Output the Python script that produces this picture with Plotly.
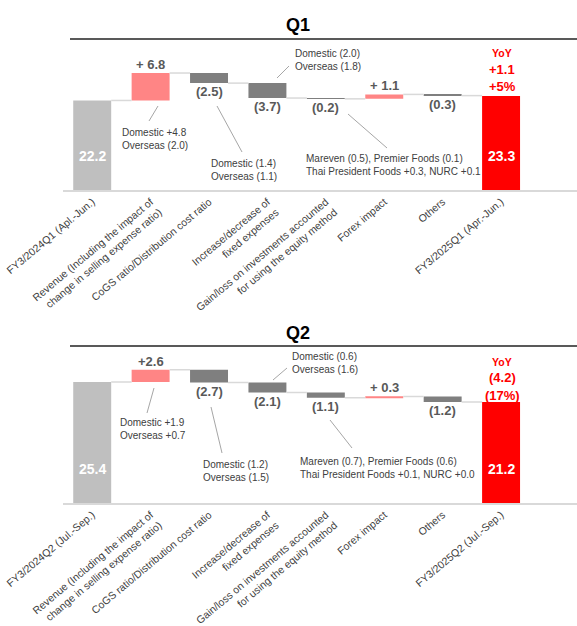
import plotly.graph_objects as go

W, H = 577, 626

# ---------------- data ----------------
q1_categories = [
    "FY3/2024Q1 (Apl.-Jun.)",
    "Revenue (Including the impact of<br>change in selling expense ratio)",
    "CoGS ratio/Distribution cost ratio",
    "Increase/decrease of<br>fixed expenses",
    "Gain/loss on investments accounted<br>for using the equity method",
    "Forex impact",
    "Others",
    "FY3/2025Q1 (Apr.-Jun.)",
]
q2_categories = [
    "FY3/2024Q2 (Jul.-Sep.)",
    "Revenue (Including the impact of<br>change in selling expense ratio)",
    "CoGS ratio/Distribution cost ratio",
    "Increase/decrease of<br>fixed expenses",
    "Gain/loss on investments accounted<br>for using the equity method",
    "Forex impact",
    "Others",
    "FY3/2025Q2 (Jul.-Sep.)",
]
measures = ["absolute", "relative", "relative", "relative", "relative", "relative", "relative", "total"]

q1_values = [22.2, 6.8, -2.5, -3.7, -0.2, 1.1, -0.3, 23.3]
q1_labels = ["22.2", "+ 6.8", "(2.5)", "(3.7)", "(0.2)", "+ 1.1", "(0.3)", "23.3"]
q1_yoy = ["YoY", "+1.1", "+5%"]
q1_notes = [
    "Domestic +4.8<br>Overseas (2.0)",
    "Domestic (1.4)<br>Overseas (1.1)",
    "Domestic (2.0)<br>Overseas (1.8)",
    "Mareven (0.5), Premier Foods (0.1)<br>Thai President Foods +0.3, NURC +0.1",
]

q2_values = [25.4, 2.6, -2.7, -2.1, -1.1, 0.3, -1.2, 21.2]
q2_labels = ["25.4", "+2.6", "(2.7)", "(2.1)", "(1.1)", "+ 0.3", "(1.2)", "21.2"]
q2_yoy = ["YoY", "(4.2)", "(17%)"]
q2_notes = [
    "Domestic +1.9<br>Overseas +0.7",
    "Domestic (1.2)<br>Overseas (1.5)",
    "Domestic (0.6)<br>Overseas (1.6)",
    "Mareven (0.7), Premier Foods (0.6)<br>Thai President Foods +0.1, NURC +0.0",
]

# ---------------- styles ----------------
FONT = "Liberation Sans, Arial, sans-serif"
C_START = "#bfbfbf"
C_UP = "#ff8585"
C_DOWN = "#7f7f7f"
C_END = "#ff0000"
C_CONN = "#d9d9d9"
C_TXT = "#595959"
C_NOTE = "#404040"
BAR_W = 0.65


def px(x, y):
    return x / W, 1 - y / H


fig = go.Figure()
annotations = []
shapes = []


def build(values, labels, xa, ya, xref, yref):
    bases, ys, colors, tops = [], [], [], []
    cum = 0.0
    for i, (m, v) in enumerate(zip(measures, values)):
        if m == "absolute":
            bases.append(0); ys.append(v); colors.append(C_START); cum = v
        elif m == "total":
            bases.append(0); ys.append(v); colors.append(C_END); cum = v
        else:
            bases.append(cum); ys.append(v); colors.append(C_UP if v >= 0 else C_DOWN); cum = cum + v
        tops.append(cum)
    xs = list(range(len(values)))
    fig.add_trace(go.Bar(x=xs, y=ys, base=bases, width=BAR_W, marker=dict(color=colors, line=dict(width=0)),
                         xaxis=xa, yaxis=ya, showlegend=False, hoverinfo="skip"))
    # connectors
    cx, cy = [], []
    for i in range(len(values) - 1):
        cx += [i + BAR_W / 2, i + 1 - BAR_W / 2, None]
        cy += [tops[i], tops[i], None]
    fig.add_trace(go.Scatter(x=cx, y=cy, mode="lines", line=dict(color=C_CONN, width=1.5),
                             xaxis=xa, yaxis=ya, showlegend=False, hoverinfo="skip"))
    # value labels
    for i, (m, v) in enumerate(zip(measures, values)):
        if m in ("absolute", "total"):
            annotations.append(dict(x=i, y=0, xref=xref, yref=yref, yanchor="middle", yshift=34,
                                    text=f"<b>{labels[i]}</b>",
                                    showarrow=False, font=dict(family=FONT, size=14, color="white")))
        elif v >= 0:
            annotations.append(dict(x=i, y=tops[i], xref=xref, yref=yref, yanchor="bottom", yshift=-1,
                                    text=f"<b>{labels[i]}</b>", showarrow=False,
                                    font=dict(family=FONT, size=13, color=C_TXT)))
        else:
            annotations.append(dict(x=i, y=tops[i], xref=xref, yref=yref, yanchor="top", yshift=1,
                                    text=f"<b>{labels[i]}</b>", showarrow=False,
                                    font=dict(family=FONT, size=13, color=C_TXT)))


build(q1_values, q1_labels, "x", "y", "x", "y")
build(q2_values, q2_labels, "x2", "y2", "x2", "y2")


def title(text, tx, ty, line_y):
    x, y = px(tx, ty)
    annotations.append(dict(x=x, y=y, xref="paper", yref="paper", xanchor="center", yanchor="middle",
                            text=f"<b>{text}</b>", showarrow=False,
                            font=dict(family=FONT, size=18, color="black")))
    x0, y0 = px(70, line_y)
    shapes.append(dict(type="line", xref="paper", yref="paper", x0=x0, x1=1, y0=y0, y1=y0,
                       line=dict(color="#595959", width=2)))


title("Q1", 298, 25, 39)
title("Q2", 298, 333, 346)


def note(text, lx, ly, line):
    x, y = px(lx, ly)
    annotations.append(dict(x=x, y=y, xref="paper", yref="paper", xanchor="left", yanchor="top", align="left",
                            text=text, showarrow=False, font=dict(family=FONT, size=10, color=C_NOTE)))
    (x0, y0), (x1, y1) = px(*line[0]), px(*line[1])
    shapes.append(dict(type="line", xref="paper", yref="paper", x0=x0, y0=y0, x1=x1, y1=y1,
                       line=dict(color="#a6a6a6", width=1)))


note(q1_notes[0], 120, 125, [(158, 106), (149, 121)])
note(q1_notes[1], 209, 156, [(217, 106), (242, 152)])
note(q1_notes[2], 293, 46, [(277, 78), (289, 66)])
note(q1_notes[3], 304, 151, [(348, 114), (387, 148)])

note(q2_notes[0], 118, 415, [(154, 388), (147, 413)])
note(q2_notes[1], 201, 457, [(211, 407), (222, 453)])
note(q2_notes[2], 290, 349, [(273, 380), (287, 368)])
note(q2_notes[3], 298, 454, [(330, 420), (352, 448)])


def yoy(texts, cx, ys):
    sizes = [10.5, 13, 13]
    for t, yy, s in zip(texts, ys, sizes):
        x, y = px(cx, yy)
        annotations.append(dict(x=x, y=y, xref="paper", yref="paper", xanchor="center", yanchor="middle",
                                text=f"<b>{t}</b>", showarrow=False,
                                font=dict(family=FONT, size=s, color="#ff0000")))


yoy(q1_yoy, 502, [53, 69, 86])
yoy(q2_yoy, 502, [362, 377, 395])

x_dom = [63 / W, 1.0]
x_common = dict(domain=x_dom, range=[-0.5, 8.3], tickmode="array", tickvals=list(range(8)),
                tickangle=-40, tickfont=dict(family=FONT, size=10.5, color=C_NOTE), automargin=False,
                showgrid=False, zeroline=False, showline=True, linecolor=C_CONN, linewidth=1.5, ticks="")
y_common = dict(range=[0, 30], showgrid=False, zeroline=False, showticklabels=False, showline=False,
                automargin=False)

fig.update_layout(
    width=W, height=H, margin=dict(l=0, r=0, t=0, b=0, autoexpand=False),
    paper_bgcolor="white", plot_bgcolor="white",
    bargap=0.35,
    xaxis=dict(**x_common, ticktext=q1_categories, anchor="y"),
    yaxis=dict(**y_common, domain=[1 - 190 / H, 1 - 69 / H], anchor="x"),
    xaxis2=dict(**x_common, ticktext=q2_categories, anchor="y2"),
    yaxis2=dict(**y_common, domain=[1 - 503 / H, 1 - 360.2 / H], anchor="x2"),
    annotations=annotations, shapes=shapes,
    font=dict(family=FONT),
)

fig.write_html("out.html")
